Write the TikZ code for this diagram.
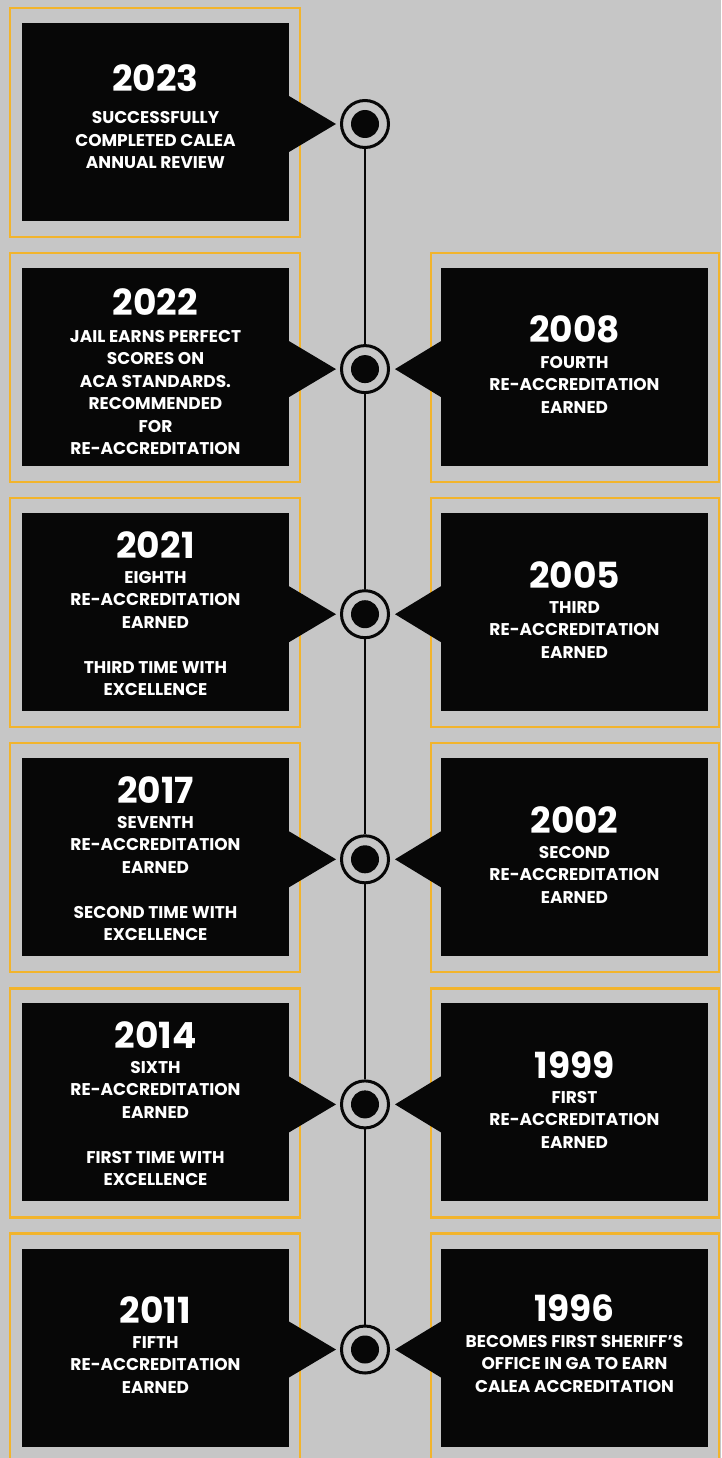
\documentclass[tikz,border=0pt]{standalone}
\usepackage{fontspec}
\setmainfont{Poppins}
\definecolor{bg}{HTML}{C6C6C6}
\definecolor{gold}{HTML}{F2B42C}
\definecolor{ink}{HTML}{070707}
\tikzset{
  frame/.style={draw=gold, line width=2.2pt},
  panel/.style={fill=ink},
  pointer/.style={fill=ink},
  dot/.style={circle, draw=ink, line width=3pt, fill=bg, minimum size=47pt, inner sep=0pt,
    path picture={\fill[ink] (path picture bounding box.center) circle (14pt);}},
  spine/.style={draw=ink, line width=2pt},
  year/.style={anchor=base, inner sep=0pt, text=white, font=\fontsize{36}{36}\selectfont\bfseries},
  body/.style={anchor=base, inner sep=0pt, text=white, font=\fontsize{17}{22.5}\selectfont\bfseries}
}
\newcommand\lines[1]{\begin{tabular}[t]{@{}c@{}}#1\end{tabular}}
\begin{document}
\begin{tikzpicture}[x=1pt, y=-1pt]
\useasboundingbox (0,0) rectangle (721,1458);
\fill[bg] (0,0) rectangle (721,1458);
% left column
\foreach \k in {0,...,5}{
  \pgfmathsetmacro\T{8+245.1*\k}
  \pgfmathsetmacro\C{\T+116}
  \draw[frame] (10,\T) rectangle (300,\T+229);
  \fill[panel] (22,\T+15) rectangle (289,\T+213);
  \fill[pointer] (289,\C-28) -- (336,\C) -- (289,\C+28) -- cycle;
}
% right column
\foreach \k in {1,...,5}{
  \pgfmathsetmacro\T{8+245.1*\k}
  \pgfmathsetmacro\C{\T+116}
  \draw[frame] (431,\T) rectangle (719,\T+229);
  \fill[panel] (441,\T+15) rectangle (708,\T+213);
  \fill[pointer] (441,\C-28) -- (395,\C) -- (441,\C+28) -- cycle;
}
% timeline dots
\foreach \k in {0,...,5}{
  \pgfmathsetmacro\C{124+245.1*\k}
  \node[dot] (c\k) at (365,\C) {};
}
\draw[spine] (c0) -- (c1);
\draw[spine] (c1) -- (c2);
\draw[spine] (c2) -- (c3);
\draw[spine] (c3) -- (c4);
\draw[spine] (c4) -- (c5);
% left texts
\node[year] (y2023) at (155.5,92) {2023};
\node[body] (t2023) at (155.5,124) {\lines{SUCCESSFULLY\\COMPLETED CALEA\\ANNUAL REVIEW}};
\node[year] (y2022) at (155.5,315) {2022};
\node[body] (t2022) at (155.5,342) {\lines{JAIL EARNS PERFECT\\SCORES ON\\ACA STANDARDS.\\RECOMMENDED\\FOR\\RE-ACCREDITATION}};
\node[year] (y2021) at (155.5,558) {2021};
\node[body] (t2021) at (155.5,583) {\lines{EIGHTH\\RE-ACCREDITATION\\EARNED\\ \\THIRD TIME WITH\\EXCELLENCE}};
\node[year] (y2017) at (155.5,803) {2017};
\node[body] (t2017) at (155.5,828) {\lines{SEVENTH\\RE-ACCREDITATION\\EARNED\\ \\SECOND TIME WITH\\EXCELLENCE}};
\node[year] (y2014) at (155.5,1048) {2014};
\node[body] (t2014) at (155.5,1073) {\lines{SIXTH\\RE-ACCREDITATION\\EARNED\\ \\FIRST TIME WITH\\EXCELLENCE}};
\node[year] (y2011) at (155.5,1323) {2011};
\node[body] (t2011) at (155.5,1348) {\lines{FIFTH\\RE-ACCREDITATION\\EARNED}};
% right texts
\node[year] (y2008) at (574.5,342) {2008};
\node[body] (t2008) at (574.5,368) {\lines{FOURTH\\RE-ACCREDITATION\\EARNED}};
\node[year] (y2005) at (574.5,588) {2005};
\node[body] (t2005) at (574.5,613) {\lines{THIRD\\RE-ACCREDITATION\\EARNED}};
\node[year] (y2002) at (574.5,833) {2002};
\node[body] (t2002) at (574.5,858) {\lines{SECOND\\RE-ACCREDITATION\\EARNED}};
\node[year] (y1999) at (574.5,1078) {1999};
\node[body] (t1999) at (574.5,1103) {\lines{FIRST\\RE-ACCREDITATION\\EARNED}};
\node[year] (y1996) at (574.5,1321) {1996};
\node[body] (t1996) at (574.5,1347) {\lines{BECOMES FIRST SHERIFF’S\\OFFICE IN GA TO EARN\\CALEA ACCREDITATION}};
\end{tikzpicture}
\end{document}
